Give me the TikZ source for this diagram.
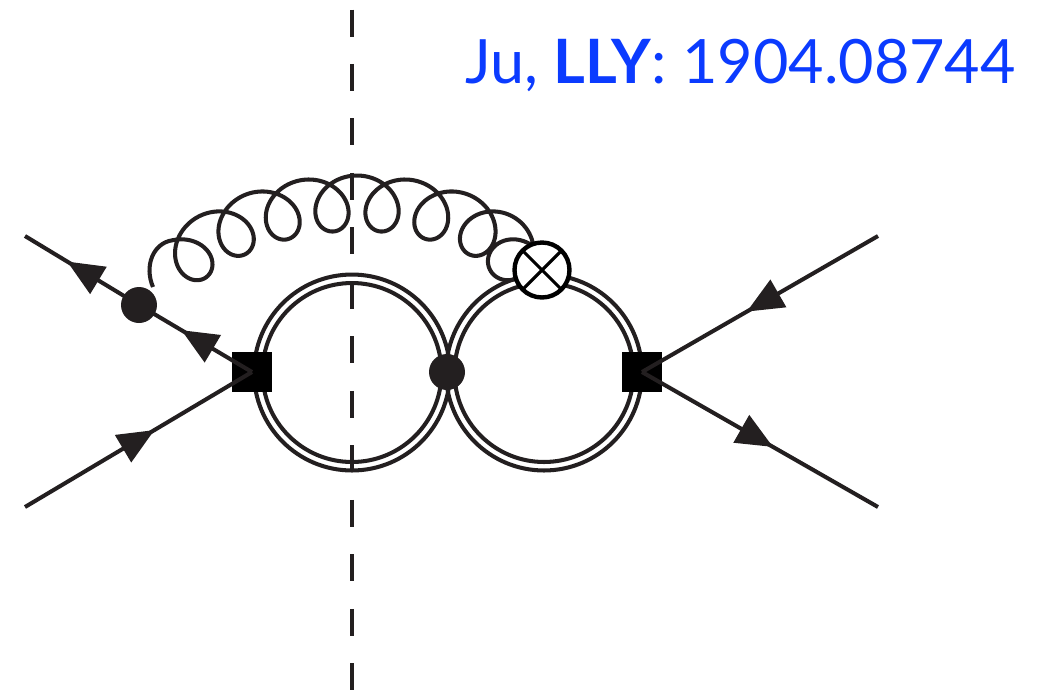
\documentclass[tikz,border=0pt]{standalone}
\usepackage{fontspec}
\setmainfont{Lato}
\usetikzlibrary{arrows.meta,decorations.markings}
\definecolor{inkdark}{HTML}{231F20}
\definecolor{refblue}{HTML}{0B3BFF}
\begin{document}
\begin{tikzpicture}[x=0.02cm,y=-0.02cm,line width=2.3pt,
  declare function={loopw(\q)=(\q-180)/360-3.5;
    gluonphi(\q)=6*loopw(\q);
    gluonx(\q)=357+51*loopw(\q)-0.3*loopw(\q)*loopw(\q)*loopw(\q)-10*max(loopw(\q)-2.5,0)*max(loopw(\q)-2.5,0)
      +27.5*cos(\q)*sin(gluonphi(\q))+28*sin(\q)*cos(gluonphi(\q));
    gluony(\q)=203+4.16*loopw(\q)*loopw(\q)
      -27.5*cos(\q)*cos(gluonphi(\q))+28*sin(\q)*sin(gluonphi(\q));},
  leg/.style={draw=inkdark,line width=2.3pt},
  arrowed/.style={postaction={decorate,decoration={markings,mark=at position #1 with {\arrow[inkdark]{Stealth[length=0.73cm,width=0.62cm,inset=0pt]}}}}},
  ring/.style={circle,draw=inkdark,line width=2.3pt,inner sep=0pt,outer sep=0pt,minimum size=#1},
  blob/.style={circle,fill=inkdark,inner sep=0pt,outer sep=0pt,minimum size=0.72cm},
  vertexbox/.style={rectangle,fill=black,inner sep=0pt,outer sep=0pt,minimum size=0.8cm}]
\useasboundingbox (0,0) rectangle (1055,691);

% cut
\coordinate (cuttop) at (352,9.5);
\coordinate (cutbottom) at (352,691);
\draw[inkdark,line width=2.3pt,dash pattern=on 0.54cm off 0.55cm] (cuttop) -- (cutbottom);

% bubbles
\node[ring=3.92cm] (ringlo) at (352,372.5) {};
\node[ring=3.58cm] (ringli) at (352,372.5) {};
\node[ring=3.92cm] (ringro) at (544,372.5) {};
\node[ring=3.58cm] (ringri) at (544,372.5) {};

% vertices
\node[vertexbox] (boxl) at (252,372) {};
\node[vertexbox] (boxr) at (642,372) {};
\node[blob] (dotm) at (447,372) {};
\node[blob] (dotq) at (139,305) {};

% legs
\coordinate (inl) at (25,236);
\coordinate (inb) at (25,507);
\coordinate (outt) at (878,236);
\coordinate (outb) at (878,507);
\draw[leg,arrowed=0.63] (dotq.center) -- (inl);
\draw[leg,arrowed=0.625] (boxl.center) -- (dotq.center);
\draw[leg,arrowed=0.57] (inb) -- (boxl.center);
\draw[leg,arrowed=0.556] (outt) -- (boxr.center);
\draw[leg,arrowed=0.555] (boxr.center) -- (outb);

% gluon
\coordinate (gluonstart) at (153,287);
\draw[inkdark,line width=2.3pt,variable=\t,samples=600,domain=20:2900,smooth]
  (gluonstart) .. controls (144,266) and (153,243) .. ({gluonx(20)},{gluony(20)})
  -- plot ({gluonx(\t)},{gluony(\t)});

% insertion
\node[circle,draw=black,fill=white,line width=2.5pt,inner sep=0pt,outer sep=0pt,minimum size=1.1cm] (cross) at (542,270) {};
\draw[black,line width=1.8pt] (cross.45) -- (cross.225) (cross.135) -- (cross.315);

% label
\node[anchor=base east,text=refblue,font=\fontsize{34.8}{40}\selectfont,inner sep=0pt] (cite) at (1018,83) {Ju, \textbf{LLY}: 1904.08744};
\end{tikzpicture}
\end{document}
